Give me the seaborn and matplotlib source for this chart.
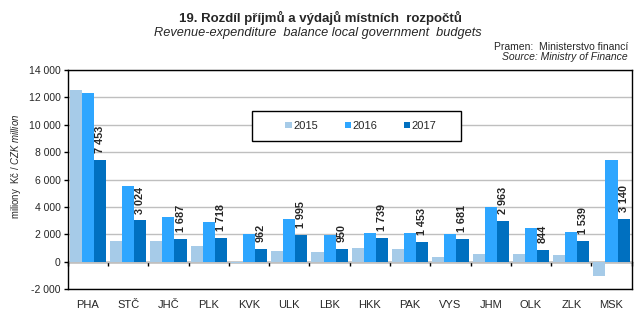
import numpy as np
import pandas as pd
import matplotlib
matplotlib.use("Agg")
import matplotlib.pyplot as plt
from matplotlib.patches import Rectangle
import seaborn as sns

# Kraje (regions) and the revenue-expenditure balance, CZK million
regions = ["PHA", "STČ", "JHČ", "PLK", "KVK", "ULK", "LBK", "HKK",
           "PAK", "VYS", "JHM", "OLK", "ZLK", "MSK"]
years = ["2015", "2016", "2017"]
bal_2015 = [12520, 1500, 1500, 1130, -100, 830, 690, 1050,
            910, 390, 540, 540, 470, -1000]
bal_2016 = [12330, 5540, 3260, 2890, 2010, 3110, 1960, 2080,
            2080, 2010, 4020, 2450, 2160, 7450]
bal_2017 = [7453, 3024, 1687, 1718, 962, 1995, 950, 1739,
            1453, 1681, 2963, 844, 1539, 3140]
colors = ["#A6CBE8", "#2EA6FF", "#0070C0"]

y_ticks = list(range(-2000, 14001, 2000))

sns.set_style("white")
plt.rcParams["font.family"] = ["Liberation Sans", "DejaVu Sans"]
plt.rcParams["mathtext.fontset"] = "custom"
plt.rcParams["mathtext.rm"] = "Liberation Sans"
plt.rcParams["mathtext.it"] = "Liberation Sans:italic"

df = pd.DataFrame({"region": regions, "2015": bal_2015,
                   "2016": bal_2016, "2017": bal_2017})
long = df.melt(id_vars="region", value_vars=years,
               var_name="year", value_name="balance")


def fmt(v):
    return f"{v:,.0f}".replace(",", " ")


fig = plt.figure(figsize=(6.43, 3.30), dpi=100)
ax = fig.add_axes([0.1053, 0.1233, 0.8771, 0.6646])

sns.barplot(data=long, x="region", y="balance", hue="year",
            hue_order=years, palette=colors, width=0.9, saturation=1,
            linewidth=0, ax=ax)

ax.set_ylim(-2000, 14000)
ax.set_xlim(-0.5, len(regions) - 0.5)
ax.set_yticks(y_ticks)
ax.set_yticklabels([fmt(v) for v in y_ticks], fontsize=7.5)
ax.set_xlabel("")
ax.set_ylabel("")
ax.tick_params(axis="y", direction="out", length=3, width=1, pad=2,
               left=True, color="black")
ax.tick_params(axis="x", length=0, pad=8, labelsize=8)
ax.yaxis.grid(True, color="#BFBFBF", lw=1)
ax.set_axisbelow(True)
for s in ax.spines.values():
    s.set_color("black")
    s.set_linewidth(1)

# zero axis with category separators
zero_frac = (0 - (-2000)) / 16000
secax = ax.secondary_xaxis(zero_frac)
secax.set_xticks(np.arange(len(regions) + 1) - 0.5)
secax.set_xticklabels([])
secax.tick_params(direction="out", length=3, width=1, color="black")
secax.spines["bottom"].set_color("black")
secax.spines["bottom"].set_linewidth(1)

# value labels for 2017
ax.bar_label(ax.containers[2], labels=[fmt(v) for v in bal_2017],
             rotation=90, padding=5, fontsize=7.8, fontweight="bold")

# legend: entries centred in a framed box
box = (0.327, 0.676, 0.370, 0.137)
ax.add_patch(Rectangle(box[:2], box[2], box[3], transform=ax.transAxes,
                       facecolor="white", edgecolor="black", lw=1,
                       zorder=4))
leg = ax.legend(loc="center", bbox_to_anchor=(box[0] + box[2] / 2 + 0.008,
                                              box[1] + box[3] / 2),
                ncol=3, frameon=False, fontsize=8,
                handlelength=0.55, handleheight=0.55, handletextpad=0.15,
                columnspacing=2.4, borderpad=0, title=None)
leg.set_zorder(5)

fig.text(0.499, 1 - 18 / 330, "19. Rozdíl příjmů a výdajů místních  rozpočtů",
         ha="center", va="center", fontsize=9.5, fontweight="bold")
fig.text(0.495, 1 - 33 / 330, "Revenue-expenditure  balance local government  budgets",
         ha="center", va="center", fontsize=9.2, style="italic")
fig.text(628 / 643, 1 - 47 / 330, "Pramen:  Ministerstvo financí",
         ha="right", va="center", fontsize=7.5)
fig.text(628 / 643, 1 - 57.5 / 330, "Source: Ministry of Finance",
         ha="right", va="center", fontsize=7.5, style="italic")
fig.text(16 / 643, 1 - 166 / 330, r"miliony  Kč / $\mathit{CZK\ million}$",
         ha="center", va="center", rotation=90, fontsize=6.9)

fig.savefig("out.png", dpi=100)
